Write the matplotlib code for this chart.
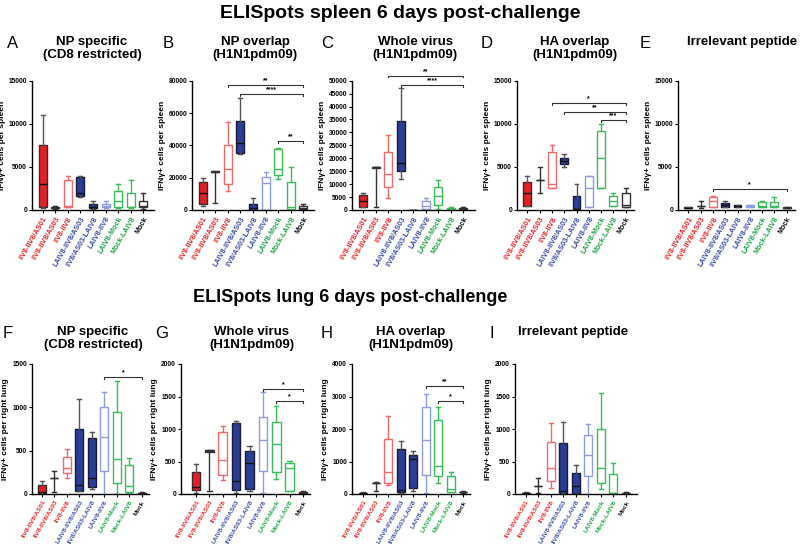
import matplotlib
matplotlib.use("Agg")
import matplotlib.pyplot as plt

plt.rcParams['font.family'] = ['Liberation Sans', 'DejaVu Sans']

# ======================
# GROUPS
# ======================
groups = ["IIV8-IIV8/AS01", "IIV8-IIV8/AS03", "IIV8-IIV8", "LAIV8-IIV8/AS03",
          "IIV8/AS03-LAIV8", "LAIV8-IIV8", "LAIV8-Mock", "Mock-LAIV8", "Mock"]
label_colors = ["#e8252a", "#e8252a", "#e8252a", "#3b4ca8", "#3b4ca8", "#3b4ca8",
                "#22a548", "#22a548", "#111111"]
box_face = ["#e41e26", "none", "none", "#2c3e93", "#2c3e93", "none", "none", "none", "none"]
box_edge = ["#3a2a2a", "#333333", "#f26b6b", "#1a1a3a", "#1a1a3a", "#8d9de0",
            "#3dbb5a", "#3dbb5a", "#333333"]

# ======================
# BOX SUMMARIES (whisker low, q1, median, q3, whisker high)
# ======================
spleen_np_cd8 = [(200, 300, 3000, 7500, 11000), (150, 200, 250, 300, 500),
                 (300, 300, 500, 3500, 4000), (1500, 1600, 2000, 3800, 4000),
                 (100, 200, 400, 700, 1000), (200, 300, 450, 700, 1000),
                 (200, 400, 1000, 2200, 3000), (200, 300, 400, 2000, 3500),
                 (100, 300, 500, 1100, 2000)]
spleen_np_overlap = [(2500, 3900, 10500, 17500, 20000), (4500, 23500, 23500, 24000, 24000),
                     (11500, 16000, 25500, 40000, 54500), (34500, 35000, 41500, 55000, 69000),
                     (0, 300, 1500, 4000, 7500), (0, 0, 17000, 20500, 23500),
                     (19000, 21600, 25500, 38000, 38500), (0, 400, 1600, 17500, 26500),
                     (0, 400, 1000, 2700, 3500)]
spleen_whole = [(1000, 1300, 3500, 5800, 6500), (1000, 16300, 16500, 16700, 16700),
                (4500, 9000, 13900, 22300, 29000), (12000, 15000, 18300, 34300, 47000),
                (100, 100, 100, 100, 100), (0, 250, 1500, 3600, 4500),
                (250, 1900, 5300, 9000, 11500), (0, 100, 400, 600, 1000),
                (0, 200, 400, 600, 1000)]
spleen_ha = [(500, 500, 2000, 3200, 4000), (2000, 3500, 3500, 3500, 5000),
             (2500, 2500, 3000, 6700, 7500), (5000, 5300, 5700, 6000, 6500),
             (0, 100, 100, 1600, 3000), (300, 400, 2500, 4000, 4000),
             (2500, 2500, 6000, 9200, 10000), (500, 500, 1000, 1650, 2000),
             (300, 400, 600, 2000, 2500)]
spleen_irr = [(200, 200, 250, 300, 300), (200, 500, 500, 500, 1000),
              (300, 400, 1000, 1550, 1600), (300, 400, 600, 800, 1000),
              (300, 350, 450, 550, 600), (300, 350, 450, 550, 600),
              (300, 400, 500, 950, 1000), (300, 400, 500, 950, 1500),
              (200, 200, 250, 300, 300)]
lung_np_cd8 = [(0, 10, 20, 100, 150), (20, 190, 190, 190, 270),
               (180, 240, 300, 430, 520), (30, 38, 100, 750, 1100),
               (60, 80, 190, 650, 710), (0, 260, 660, 1000, 1180),
               (0, 130, 400, 950, 1300), (10, 20, 90, 340, 420),
               (0, 5, 10, 15, 20)]
lung_whole = [(15, 67, 110, 338, 467), (50, 650, 660, 670, 670),
              (210, 300, 520, 950, 1040), (15, 60, 200, 1100, 1130),
              (40, 70, 480, 660, 740), (15, 350, 830, 1180, 1570),
              (230, 340, 770, 1110, 1350), (40, 50, 400, 470, 510),
              (10, 15, 25, 30, 40)]
lung_ha = [(10, 20, 30, 40, 50), (80, 330, 340, 350, 360),
           (270, 340, 680, 1700, 2400), (30, 51, 133, 1385, 1620),
           (82, 185, 1090, 1190, 1310), (30, 600, 1650, 2680, 3090),
           (340, 560, 850, 2290, 2680), (50, 70, 160, 540, 670),
           (30, 50, 60, 70, 90)]
lung_irr = [(0, 5, 10, 15, 25), (15, 130, 130, 130, 240),
            (90, 200, 400, 800, 1100), (0, 0, 40, 790, 1110),
            (0, 0, 130, 330, 440), (0, 280, 600, 910, 1080),
            (80, 170, 400, 1000, 1550), (15, 15, 20, 310, 480),
            (5, 10, 15, 20, 25)]

# significance brackets: (from group, to group, height, stars)
sig_B = [(2, 8, 77500, "**"), (3, 8, 72000, "****"), (6, 8, 42500, "**")]
sig_C = [(2, 8, 52000, "**"), (3, 8, 48300, "****")]
sig_D = [(2, 8, 12400, "*"), (3, 8, 11400, "**"), (6, 8, 10400, "***")]
sig_E = [(2, 8, 2400, "*")]
sig_F = [(5, 8, 1350, "*")]
sig_G = [(5, 8, 1620, "*"), (6, 8, 1425, "*")]
sig_H = [(5, 8, 3335, "**"), (6, 8, 2850, "*")]

W, H = 800, 547
fig = plt.figure(figsize=(8, 5.47), dpi=100)


def panel(px, data, ymax, ystep, ylabel, sig, xfs=5.2):
    left, right, x0, x8, top, bot = px
    ax = fig.add_axes([left / W, 1 - bot / H, (right - left) / W, (bot - top) / H])
    s = (x8 - x0) / 8
    ax.set_xlim(-(x0 - left) / s, 8 + (right - x8) / s)
    ax.set_ylim(0, ymax)

    stats = [dict(whislo=a, q1=b, med=c, q3=d, whishi=e, fliers=[]) for a, b, c, d, e in data]
    bp = ax.bxp(stats, positions=range(len(data)), widths=0.64, capwidths=0.32,
                patch_artist=True, showfliers=False, manage_ticks=False)
    for i in range(len(data)):
        filled = box_face[i] != "none"
        bx = bp["boxes"][i]
        bx.set_facecolor(box_face[i] if filled else "white")
        bx.set_edgecolor(box_edge[i])
        bx.set_linewidth(1.0)
        wc = "#555555" if filled else box_edge[i]
        for art in bp["whiskers"][2 * i:2 * i + 2] + bp["caps"][2 * i:2 * i + 2]:
            art.set_color(wc)
            art.set_linewidth(1.0)
        bp["medians"][i].set_color("#111111" if filled else box_edge[i])
        bp["medians"][i].set_linewidth(1.0)

    for i, j, y, txt in sig:
        d = ymax * 0.015
        ax.plot([i, i, j, j], [y - d, y, y, y - d], color="#333333", lw=0.8, clip_on=False)
        ax.text((i + j) / 2, y + ymax * 0.005, txt, ha="center", va="bottom",
                fontsize=5, weight="bold")

    ax.set_yticks(range(0, ymax + 1, ystep))
    ax.set_xticks(range(len(groups)))
    ax.set_xticklabels(groups, rotation=60, ha="right", rotation_mode="anchor",
                       fontsize=xfs, weight="bold")
    for t, c in zip(ax.get_xticklabels(), label_colors):
        t.set_color(c)
    ax.tick_params(axis="y", labelsize=4.8, length=2.5, width=0.8, pad=1)
    ax.tick_params(axis="x", length=2.5, width=0.8, pad=1.5)
    for t in ax.get_yticklabels():
        t.set_fontweight("bold")
    ax.spines[["top", "right"]].set_visible(False)
    for sp in ("left", "bottom"):
        ax.spines[sp].set_linewidth(1.0)
    ax.set_ylabel(ylabel, fontsize=6, weight="bold", labelpad=2)
    return ax


spl = "IFNγ+ cells per spleen"
lng = "IFNγ+ cells per right lung"

panel((32, 154, 42.7, 143.3, 80.7, 210), spleen_np_cd8, 15000, 5000, spl, [])
panel((192, 314, 202.7, 303.3, 80.7, 210), spleen_np_overlap, 80000, 20000, spl, sig_B)
panel((352, 475, 363.3, 463.3, 80.7, 210), spleen_whole, 50000, 5000, spl, sig_C)
panel((517, 634, 527.3, 625.7, 80.7, 210), spleen_ha, 15000, 5000, spl, sig_D)
panel((678, 795, 688.3, 786.7, 80.7, 210), spleen_irr, 15000, 5000, spl, sig_E)

panel((32, 149, 42, 141.7, 364, 494), lung_np_cd8, 1500, 500, lng, sig_F, 4.6)
panel((181, 310, 196, 303, 364, 494), lung_whole, 2000, 500, lng, sig_G, 4.6)
panel((352, 470, 363.3, 463.3, 364, 494), lung_ha, 4000, 1000, lng, sig_H, 4.6)
panel((515, 637, 525.7, 626, 364, 494), lung_irr, 2000, 500, lng, [], 4.6)

# titles and panel letters
fig.text(400 / W, 1 - 13 / H, "ELISpots spleen 6 days post-challenge", ha="center", va="center",
         fontsize=14, weight="bold")
fig.text(350 / W, 1 - 297 / H, "ELISpots lung 6 days post-challenge", ha="center", va="center",
         fontsize=13, weight="bold", family=["Liberation Sans Narrow", "Liberation Sans"])

titles_top = [(13, 92, "A", "NP specific\n(CD8 restricted)"),
              (168, 255, "B", "NP overlap\n(H1N1pdm09)"),
              (327, 415, "C", "Whole virus\n(H1N1pdm09)"),
              (487, 575, "D", "HA overlap\n(H1N1pdm09)"),
              (645, 742, "E", "Irrelevant peptide")]
titles_bot = [(8, 93, "F", "NP specific\n(CD8 restricted)"),
              (162, 252, "G", "Whole virus\n(H1N1pdm09)"),
              (327, 411, "H", "HA overlap\n(H1N1pdm09)"),
              (492, 573, "I", "Irrelevant peptide")]
for row, y1 in ((titles_top, 43), (titles_bot, 333)):
    for lx, tx, letter, title in row:
        fig.text(lx / W, 1 - y1 / H, letter, ha="center", va="center", fontsize=12)
        fig.text(tx / W, 1 - (y1 - 7) / H, title, ha="center", va="top", fontsize=9.5,
                 weight="bold", linespacing=1.1)

fig.savefig("out.png", dpi=100, facecolor="white")
